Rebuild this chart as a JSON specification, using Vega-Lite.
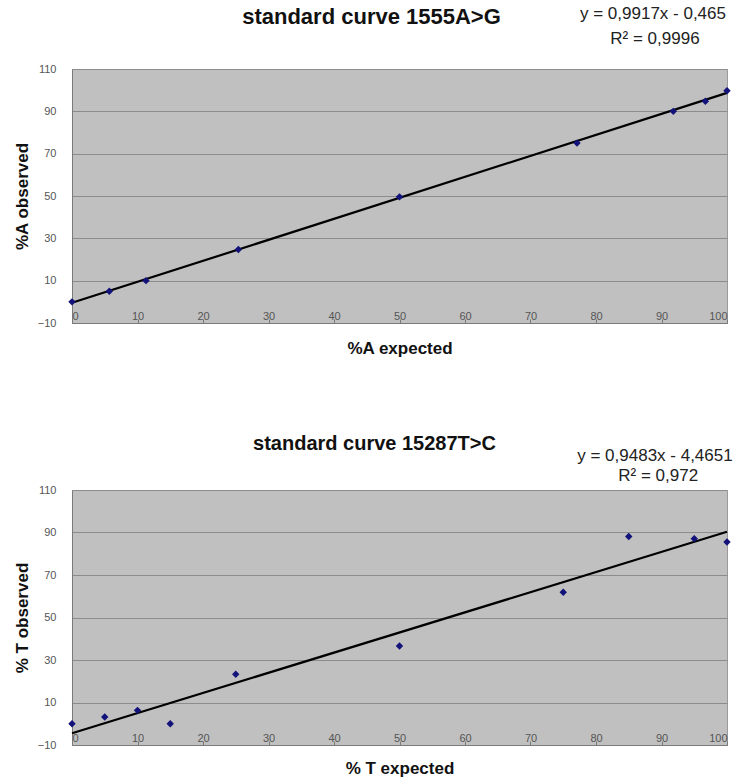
{
  "$schema": "https://vega.github.io/schema/vega-lite/v6.json",
  "background": "white",
  "padding": {"left": 12, "top": 4, "right": 0, "bottom": 0},
  "spacing": 76,
  "config": {
    "font": "Liberation Sans",
    "view": {"fill": "#c0c0c0", "stroke": "#9a9a9a", "strokeWidth": 1},
    "axis": {
      "labelFont": "Liberation Sans", "labelFontSize": 11, "labelColor": "#555555",
      "titleFont": "Liberation Sans", "titleFontWeight": "bold", "titleFontSize": 17, "titleColor": "#111111",
      "domainColor": "#7a7a7a", "gridColor": "#8c8c8c", "gridWidth": 1, "tickColor": "#7a7a7a"
    },
    "title": {"font": "Liberation Sans", "fontWeight": "bold", "color": "#111111", "frame": "group", "anchor": "middle"}
  },
  "datasets": {
    "a": [
      {"expected": 0, "observed": 0},
      {"expected": 5.7, "observed": 5},
      {"expected": 11.3, "observed": 10},
      {"expected": 25.4, "observed": 24.7},
      {"expected": 50, "observed": 49.6},
      {"expected": 77.1, "observed": 75},
      {"expected": 91.8, "observed": 90},
      {"expected": 96.7, "observed": 94.8},
      {"expected": 100, "observed": 99.7}
    ],
    "fitA": [
      {"expected": 0, "observed": -0.465},
      {"expected": 100, "observed": 98.705}
    ],
    "b": [
      {"expected": 0, "observed": 0},
      {"expected": 5, "observed": 3.2},
      {"expected": 10, "observed": 6.3},
      {"expected": 15, "observed": 0},
      {"expected": 25, "observed": 23.3},
      {"expected": 50, "observed": 36.6},
      {"expected": 75, "observed": 61.9},
      {"expected": 85, "observed": 88.1},
      {"expected": 95, "observed": 87.1},
      {"expected": 100, "observed": 85.5}
    ],
    "fitB": [
      {"expected": 0, "observed": -4.4651},
      {"expected": 100, "observed": 90.3649}
    ],
    "eqA": [{"eq": "y = 0,9917x - 0,465", "r2": "R² = 0,9996"}],
    "eqB": [{"eq": "y = 0,9483x - 4,4651", "r2": "R² = 0,972"}]
  },
  "vconcat": [
    {
      "width": 655,
      "height": 254,
      "title": {"text": "standard curve 1555A>G", "offset": -24, "fontSize": 22, "dx": -28},
      "layer": [
        {"data": {"name": "fitA"}, "mark": {"type": "line", "color": "#000000", "strokeWidth": 2.2, "clip": false},
          "encoding": {
            "x": {"field": "expected", "type": "quantitative", "scale": {"domain": [0, 100], "nice": false},
              "axis": {"title": "%A expected", "values": [0,10,20,30,40,50,60,70,80,90,100], "grid": false, "ticks": true, "tickSize": -4, "labelBaseline": "middle", "labelPadding": -3, "titlePadding": 17}},
            "y": {"field": "observed", "type": "quantitative", "scale": {"domain": [-10, 110], "nice": false, "zero": false},
              "axis": {"title": "%A observed", "values": [-10,10,30,50,70,90,110], "grid": true, "ticks": false, "labelPadding": 16, "titlePadding": 6}}
          }},
        {"data": {"name": "a"}, "mark": {"type": "point", "shape": "diamond", "filled": true, "color": "#12127a", "opacity": 1, "size": 55, "clip": false},
          "encoding": {"x": {"field": "expected", "type": "quantitative"}, "y": {"field": "observed", "type": "quantitative"}}},
        {"data": {"name": "eqA"}, "mark": {"type": "text", "fontSize": 17, "color": "#222222", "align": "center", "baseline": "middle", "clip": false},
          "encoding": {"text": {"field": "eq"}, "x": {"datum": 88.7, "type": "quantitative"}, "y": {"datum": 136, "type": "quantitative"}}},
        {"data": {"name": "eqA"}, "mark": {"type": "text", "fontSize": 17, "color": "#222222", "align": "center", "baseline": "middle", "clip": false},
          "encoding": {"text": {"field": "r2"}, "x": {"datum": 89, "type": "quantitative"}, "y": {"datum": 124.2, "type": "quantitative"}}}
      ]
    },
    {
      "width": 655,
      "height": 255,
      "title": {"text": "standard curve 15287T>C", "offset": -7, "fontSize": 20, "dx": -25},
      "layer": [
        {"data": {"name": "fitB"}, "mark": {"type": "line", "color": "#000000", "strokeWidth": 2.2, "clip": false},
          "encoding": {
            "x": {"field": "expected", "type": "quantitative", "scale": {"domain": [0, 100], "nice": false},
              "axis": {"title": "% T expected", "values": [0,10,20,30,40,50,60,70,80,90,100], "grid": false, "ticks": true, "tickSize": -4, "labelBaseline": "middle", "labelPadding": -3, "titlePadding": 15}},
            "y": {"field": "observed", "type": "quantitative", "scale": {"domain": [-10, 110], "nice": false, "zero": false},
              "axis": {"title": "% T observed", "values": [-10,10,30,50,70,90,110], "grid": true, "ticks": false, "labelPadding": 16, "titlePadding": 6}}
          }},
        {"data": {"name": "b"}, "mark": {"type": "point", "shape": "diamond", "filled": true, "color": "#12127a", "opacity": 1, "size": 55, "clip": false},
          "encoding": {"x": {"field": "expected", "type": "quantitative"}, "y": {"field": "observed", "type": "quantitative"}}},
        {"data": {"name": "eqB"}, "mark": {"type": "text", "fontSize": 17, "color": "#222222", "align": "center", "baseline": "middle", "clip": false},
          "encoding": {"text": {"field": "eq"}, "x": {"datum": 89, "type": "quantitative"}, "y": {"datum": 126, "type": "quantitative"}}},
        {"data": {"name": "eqB"}, "mark": {"type": "text", "fontSize": 17, "color": "#222222", "align": "center", "baseline": "middle", "clip": false},
          "encoding": {"text": {"field": "r2"}, "x": {"datum": 89.5, "type": "quantitative"}, "y": {"datum": 116.6, "type": "quantitative"}}}
      ]
    }
  ]
}
